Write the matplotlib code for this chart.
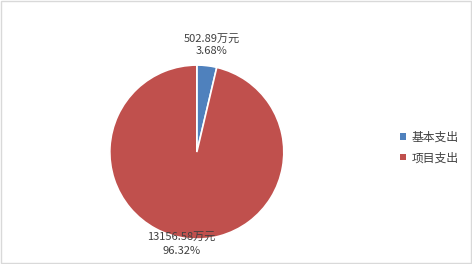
import matplotlib
matplotlib.use("Agg")
import matplotlib.pyplot as plt
import numpy as np

plt.rcParams['font.family'] = ['Noto Sans CJK SC', 'DejaVu Sans']

categories = ["基本支出", "项目支出"]
values = [502.89, 13156.58]
pct_labels = ["3.68%", "96.32%"]
colors = ["#4F81BD", "#C0504D"]

fig = plt.figure(figsize=(4.72, 2.64), dpi=100)
fig.patch.set_facecolor("white")
ax = fig.add_axes([0.417 - 0.1843, 0.424 - 0.3295, 0.3686, 0.659])
wedges, _ = ax.pie(values, colors=colors, startangle=90, counterclock=False,
                   wedgeprops=dict(edgecolor="white", linewidth=1.2))
ax.set_aspect("equal")
ax.set_xlim(-1, 1)
ax.set_ylim(-1, 1)

dists = [1.23, 1.07]
shifts = [0.03, -0.05]
spacings = [1.15, 1.45]
for w, v, p, d, s, ls in zip(wedges, values, pct_labels, dists, shifts, spacings):
    ang = np.deg2rad((w.theta1 + w.theta2) / 2)
    x = d * np.cos(ang) + s
    y = d * np.sin(ang)
    ax.text(x, y, f"{v:.2f}万元\n{p}", ha="center", va="center",
            fontsize=8, color="#404040", linespacing=ls, clip_on=False)

leg = fig.legend(wedges, categories, loc="center left", bbox_to_anchor=(0.825, 0.441),
                 frameon=False, fontsize=8.5, handlelength=0.5, handleheight=0.5,
                 handletextpad=0.45, labelspacing=0.63)
for t in leg.get_texts():
    t.set_color("#404040")
for h in leg.legend_handles:
    h.set_edgecolor("none")
    h.set_linewidth(0)

border = plt.Rectangle((0.002, 0.004), 0.995, 0.992, transform=fig.transFigure,
                       fill=False, edgecolor="#D9D9D9", linewidth=1)
fig.add_artist(border)

fig.savefig("out.png", dpi=100)
